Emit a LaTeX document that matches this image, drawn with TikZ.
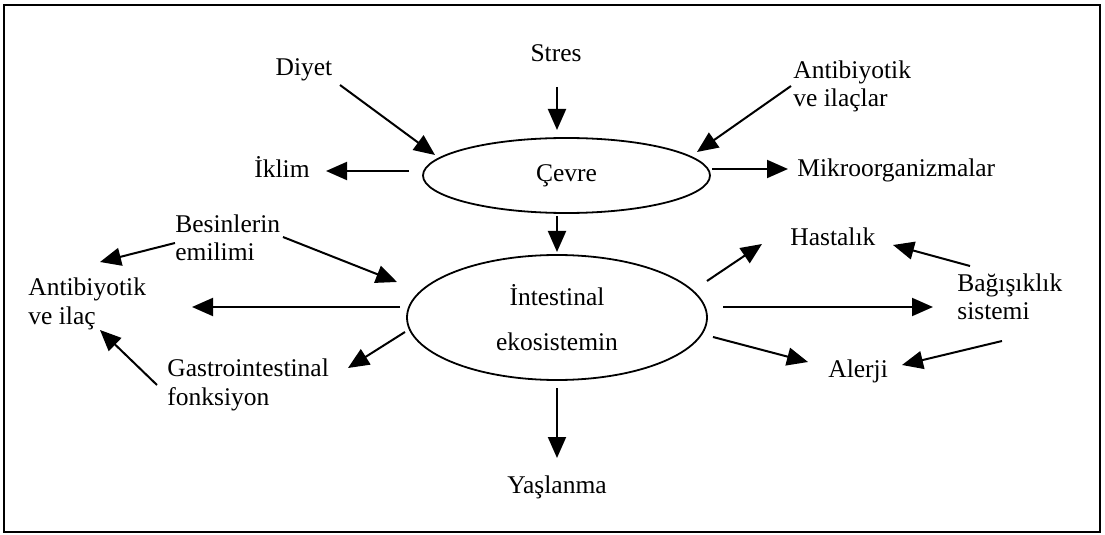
\documentclass[tikz,border=0pt]{standalone}
\usepackage{fontspec}
\setmainfont{Liberation Serif}
\usetikzlibrary{arrows.meta,shapes.geometric}
\begin{document}
\begin{tikzpicture}[x=0.5pt,y=-0.5pt,
  lbl/.style={inner sep=0pt,font=\fontsize{12.75}{14}\selectfont},
  lblw/.style={lbl,anchor=base west,align=left},
  lblc/.style={lbl,anchor=base},
  oval/.style={draw,line width=0.9pt,ellipse,inner sep=0pt,font=\fontsize{12.75}{14}\selectfont},
  arr/.style={line width=1pt,-{Triangle[length=10.5pt,width=9pt]}}]
\useasboundingbox (0,0) rectangle (1105,535);
\draw[line width=1pt] (4,5) rectangle (1100,532);
% ellipses
\node[oval,minimum width=143.5pt,minimum height=37.5pt] (cevre) at (566.5,175.5) {Çevre};
\node[oval,minimum width=150pt,minimum height=62.5pt,align=center] (int) at (557,317.5) {İntestinal\\[8.5pt]ekosistemin};
% labels (two-line labels are placed by the baseline of their last line)
\node[lblc] (stres) at (556,62) {Stres};
\node[lblc] (diyet) at (304,76) {Diyet};
\node[lblc] (iklim) at (282,178) {İklim};
\node[lblw] (antila) at (793,107) {Antibiyotik\\ve ilaçlar};
\node[lblw] (mikro) at (797,177) {Mikroorganizmalar};
\node[lblw] (besin) at (175,261) {Besinlerin\\emilimi};
\node[lblw] (antil) at (28,324) {Antibiyotik\\ve ilaç};
\node[lblw] (gastro) at (167,405) {Gastrointestinal\\fonksiyon};
\node[lblw] (hasta) at (790,246) {Hastalık};
\node[lblw] (bagis) at (957,320) {Bağışıklık\\sistemi};
\node[lblw] (alerji) at (828,378) {Alerji};
\node[lblc] (yasl) at (557,494) {Yaşlanma};
% connector end points
\coordinate (a1) at (557,87);   \coordinate (b1) at (557,130);
\coordinate (a2) at (340,85);   \coordinate (b2) at (435,155);
\coordinate (a3) at (791,86);   \coordinate (b3) at (697,152);
\coordinate (a4) at (409,171);  \coordinate (b4) at (326,171);
\coordinate (a5) at (712,169);  \coordinate (b5) at (788,169);
\coordinate (a6) at (557,216);  \coordinate (b6) at (557,252);
\coordinate (a7) at (175,243);  \coordinate (b7) at (100,262);
\coordinate (a8) at (283,237);  \coordinate (b8) at (397,282);
\coordinate (a9) at (400,307);  \coordinate (b9) at (192,307);
\coordinate (a10) at (405,332); \coordinate (b10) at (348,368);
\coordinate (a11) at (157,385); \coordinate (b11) at (100,330);
\coordinate (a12) at (707,281); \coordinate (b12) at (762,244);
\coordinate (a13) at (970,266); \coordinate (b13) at (893,245);
\coordinate (a14) at (723,307); \coordinate (b14) at (933,307);
\coordinate (a15) at (713,337); \coordinate (b15) at (808,362);
\coordinate (a16) at (1002,341);\coordinate (b16) at (902,365);
\coordinate (a17) at (557,388); \coordinate (b17) at (557,458);
\foreach \i in {1,...,17} {\draw[arr] (a\i) -- (b\i);}
\end{tikzpicture}
\end{document}
